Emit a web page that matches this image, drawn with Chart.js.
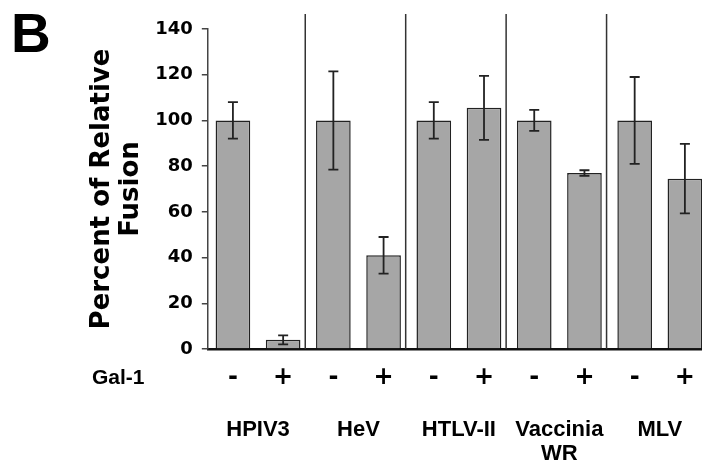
<!DOCTYPE html>
<html>
<head>
<meta charset="utf-8">
<script src="https://cdn.jsdelivr.net/npm/chart.js@4.4.0/dist/chart.umd.min.js"></script>
<style>
  html, body { margin: 0; padding: 0; background: #fff; overflow: hidden; }
  #wrap { position: relative; width: 712px; height: 480px; }
</style>
</head>
<body>
<div id="wrap"><canvas id="fusion"></canvas></div>
<script>
// Gal-1 treatment per bar and the virus groups under them
const gal1 = ['-', '+', '-', '+', '-', '+', '-', '+', '-', '+'];
const groups = ['HPIV3', 'HeV', 'HTLV-II', ['Vaccinia', 'WR'], 'MLV'];

// percent of relative fusion and its error
const fusion = [100, 4, 100, 41, 100, 105.5, 100, 77, 100, 74.5];
const fusionErr = [8, 2, 21.5, 8, 8, 14, 4.6, 1.2, 19, 15.2];

const yTicks = [0, 20, 40, 60, 80, 100, 120, 140];

const ctx = document.getElementById('fusion');

// error bars, group separators and the extra labels
const extras = {
    id: 'extras',
    afterDatasetsDraw(chart) {
        const c = chart.ctx;
        const area = chart.chartArea;
        const x = chart.scales.x;
        const y = chart.scales.y;

        c.save();
        // separators between virus groups
        c.strokeStyle = '#333';
        c.lineWidth = 1.5;
        for (let i = 1; i < gal1.length - 1; i += 2) {
            const px = x.getPixelForValue(i + 0.5) - 3;
            c.beginPath();
            c.moveTo(px, area.top - 15);
            c.lineTo(px, area.bottom);
            c.stroke();
        }

        // error bars
        const bars = chart.getDatasetMeta(0).data;
        c.strokeStyle = '#222';
        c.lineWidth = 1.8;
        bars.forEach((bar, i) => {
            const top = y.getPixelForValue(fusion[i] + fusionErr[i]);
            const bot = y.getPixelForValue(fusion[i] - fusionErr[i]);
            c.beginPath();
            c.moveTo(bar.x, top);
            c.lineTo(bar.x, bot);
            c.moveTo(bar.x - 5, top);
            c.lineTo(bar.x + 5, top);
            c.moveTo(bar.x - 5, bot);
            c.lineTo(bar.x + 5, bot);
            c.stroke();
        });

        // panel letter and the Gal-1 row label
        c.fillStyle = '#000';
        c.textBaseline = 'alphabetic';
        c.textAlign = 'left';
        c.font = 'bold 55px "Liberation Sans", Arial, sans-serif';
        c.fillText('B', 11, 52);
        c.textBaseline = 'middle';
        c.font = 'bold 21px "Liberation Sans", Arial, sans-serif';
        c.fillText('Gal-1', 92, area.bottom + 29);
        c.restore();
    }
};

new Chart(ctx, {
    type: 'bar',
    data: {
        labels: gal1,
        datasets: [{
            label: 'Percent of Relative Fusion',
            data: fusion,
            backgroundColor: '#a6a6a6',
            borderColor: '#222',
            borderWidth: 1.5,
            barPercentage: 0.69,
            categoryPercentage: 1
        }]
    },
    options: {
        responsive: true,
        maintainAspectRatio: false,
        animation: false,
        layout: {
            padding: { left: 88, right: 2, top: 29, bottom: 2 }
        },
        plugins: {
            legend: { display: false },
            tooltip: { enabled: false }
        },
        scales: {
            x: {
                offset: true,
                grid: { display: false, drawTicks: false },
                border: { display: true, color: '#111', width: 2.5 },
                ticks: {
                    color: '#000',
                    padding: 14,
                    autoSkip: false,
                    maxRotation: 0,
                    font: { family: 'DejaVu Sans', weight: 'bold', size: 24 }
                }
            },
            x2: {
                type: 'category',
                labels: groups,
                position: 'bottom',
                offset: true,
                grid: { display: false, drawTicks: false },
                border: { display: false },
                ticks: {
                    color: '#000',
                    padding: 13,
                    autoSkip: false,
                    maxRotation: 0,
                    font: { family: 'Liberation Sans', weight: 'bold', size: 22, lineHeight: 1.05 }
                }
            },
            y: {
                min: 0,
                max: 140,
                afterBuildTicks: (scale) => {
                    scale.ticks = yTicks.map(v => ({ value: v }));
                },
                grid: {
                    display: true,
                    drawOnChartArea: false,
                    drawTicks: true,
                    tickLength: 6,
                    color: '#444',
                    lineWidth: 1.5
                },
                border: { display: true, color: '#444', width: 1.5 },
                ticks: {
                    color: '#000',
                    padding: 9,
                    font: { family: 'DejaVu Sans', weight: 'bold', size: 18 }
                },
                title: {
                    display: true,
                    text: ['Percent of Relative', 'Fusion'],
                    color: '#000',
                    padding: { top: 0, bottom: 0 },
                    font: { family: 'DejaVu Sans', weight: 'bold', size: 26, lineHeight: 1.12 }
                }
            }
        }
    },
    plugins: [extras]
});
</script>
</body>
</html>
